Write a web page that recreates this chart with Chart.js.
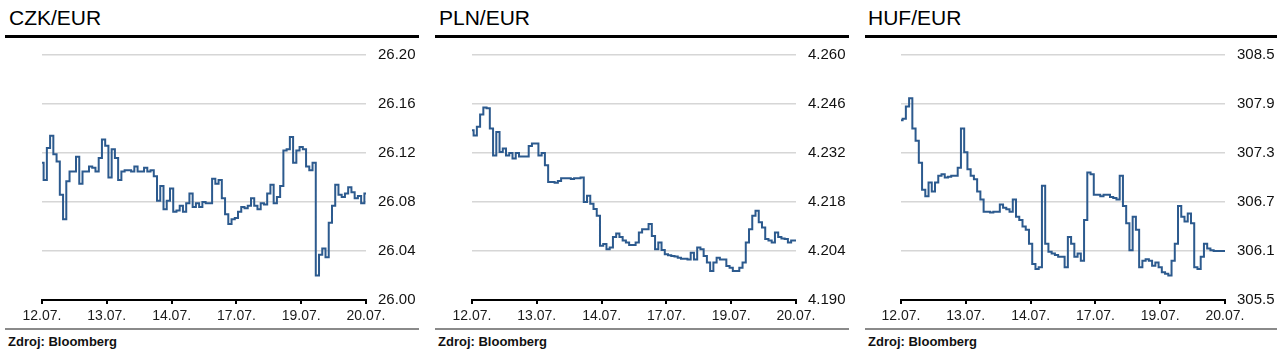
<!DOCTYPE html>
<html>
<head>
<meta charset="utf-8">
<script src="https://cdn.jsdelivr.net/npm/chart.js@4.4.1/dist/chart.umd.min.js"></script>
<style>
  html, body { margin: 0; padding: 0; background: #fff; }
  body { width: 1288px; height: 355px; position: relative; overflow: hidden; font-family: "Liberation Sans", Arial, sans-serif; }
  .title { position: absolute; top: 7px; font-size: 21px; line-height: 21px; color: #000; white-space: nowrap; }
  .rule { position: absolute; top: 35px; height: 3px; background: #000; }
  .rule2 { position: absolute; top: 328px; height: 2px; background: #8a8a8a; }
  .src { position: absolute; top: 335px; font-size: 13px; line-height: 13px; font-weight: bold; color: #111; white-space: nowrap; }
  canvas { position: absolute; top: 0; }
</style>
</head>
<body>
<div class="title" style="left:9px">CZK/EUR</div>
<div class="title" style="left:439px">PLN/EUR</div>
<div class="title" style="left:868px">HUF/EUR</div>
<div class="rule" style="left:5px;width:414px"></div>
<div class="rule" style="left:435px;width:414px"></div>
<div class="rule" style="left:865px;width:412px"></div>
<div class="rule2" style="left:5px;width:414px"></div>
<div class="rule2" style="left:435px;width:414px"></div>
<div class="rule2" style="left:865px;width:412px"></div>
<div class="src" style="left:8px">Zdroj: Bloomberg</div>
<div class="src" style="left:438px">Zdroj: Bloomberg</div>
<div class="src" style="left:868px">Zdroj: Bloomberg</div>
<canvas id="c1" width="414" height="355" style="left:5px"></canvas>
<canvas id="c2" width="414" height="355" style="left:435px"></canvas>
<canvas id="c3" width="414" height="355" style="left:864px"></canvas>
<script>
// Dates (x-axis tick labels); samples are equally spaced, 20 per labelled interval
const xLabels = ['12.07.', '13.07.', '14.07.', '17.07.', '19.07.', '20.07.'];
const SAMPLES_PER_STEP = 20;

const czkTicks = [26.00, 26.04, 26.08, 26.12, 26.16, 26.20];
const plnTicks = [4.190, 4.204, 4.218, 4.232, 4.246, 4.260];
const hufTicks = [305.5, 306.1, 306.7, 307.3, 307.9, 308.5];

const czkValues = [
  26.112, 26.098, 26.124, 26.134, 26.119, 26.113, 26.086, 26.066, 26.097, 26.105,
  26.105, 26.117, 26.095, 26.105, 26.105, 26.109, 26.108, 26.105, 26.116, 26.131,
  26.126, 26.100, 26.123, 26.116, 26.098, 26.105, 26.106, 26.106, 26.105, 26.109,
  26.105, 26.105, 26.108, 26.105, 26.106, 26.101, 26.081, 26.093, 26.074, 26.081,
  26.091, 26.072, 26.073, 26.077, 26.072, 26.079, 26.087, 26.076, 26.079, 26.076,
  26.080, 26.079, 26.079, 26.099, 26.095, 26.098, 26.083, 26.070, 26.062, 26.066,
  26.067, 26.072, 26.076, 26.075, 26.077, 26.083, 26.077, 26.074, 26.079, 26.078,
  26.087, 26.094, 26.079, 26.084, 26.093, 26.122, 26.123, 26.133, 26.112, 26.122,
  26.125, 26.123, 26.109, 26.106, 26.112, 26.020, 26.037, 26.042, 26.035, 26.063,
  26.077, 26.094, 26.086, 26.084, 26.087, 26.092, 26.088, 26.083, 26.085, 26.079,
  26.087
];

const plnValues = [
  4.2385, 4.2370, 4.2395, 4.2430, 4.2450, 4.2448, 4.2390, 4.2313, 4.2380, 4.2323,
  4.2333, 4.2313, 4.2320, 4.2304, 4.2320, 4.2310, 4.2310, 4.2310, 4.2340, 4.2347,
  4.2347, 4.2313, 4.2320, 4.2285, 4.2237, 4.2237, 4.2235, 4.2240, 4.2248, 4.2248,
  4.2248, 4.2246, 4.2248, 4.2248, 4.2250, 4.2180, 4.2198, 4.2175, 4.2160, 4.2141,
  4.2055, 4.2060, 4.2045, 4.2050, 4.2080, 4.2090, 4.2080, 4.2070, 4.2064, 4.2057,
  4.2057, 4.2064, 4.2093, 4.2102, 4.2102, 4.2117, 4.2083, 4.2045, 4.2064, 4.2043,
  4.2031, 4.2028, 4.2026, 4.2024, 4.2021, 4.2018, 4.2018, 4.2016, 4.2035, 4.2016,
  4.2050, 4.2045, 4.2026, 4.2007, 4.1983, 4.2007, 4.2021, 4.2016, 4.2016, 4.1997,
  4.1992, 4.1983, 4.1983, 4.1992, 4.2007, 4.2064, 4.2102, 4.2141, 4.2155, 4.2122,
  4.2107, 4.2074, 4.2070, 4.2064, 4.2093, 4.2080, 4.2076, 4.2074, 4.2064, 4.2070,
  4.2070
];

const hufValues = [
  307.70, 307.72, 307.87, 307.97, 307.60, 307.45, 307.18, 306.85, 306.77, 306.94,
  306.83, 306.94, 307.02, 307.04, 307.00, 307.01, 307.02, 307.02, 307.12, 307.60,
  307.31, 307.10, 307.02, 306.98, 306.83, 306.73, 306.58, 306.58, 306.57, 306.58,
  306.58, 306.67, 306.63, 306.61, 306.58, 306.73, 306.52, 306.48, 306.40, 306.36,
  306.19, 305.94, 305.88, 305.90, 306.90, 306.19, 306.09, 306.07, 306.05, 306.03,
  306.03, 305.90, 306.27, 306.19, 306.03, 306.07, 305.98, 306.48, 307.06, 307.04,
  306.79, 306.79, 306.77, 306.79, 306.79, 306.76, 306.75, 306.73, 307.02, 306.65,
  306.44, 306.11, 306.52, 306.36, 305.90, 305.98, 306.00, 305.98, 305.92, 305.96,
  305.90, 305.84, 305.82, 305.80, 305.98, 306.19, 306.65, 306.52, 306.46, 306.56,
  306.44, 305.90, 305.88, 306.03, 306.19, 306.13, 306.11, 306.10, 306.10, 306.10,
  306.10
];

const LINE_COLOR = '#2c5a8e';
const FONT = '"Liberation Sans", Arial, sans-serif';

function makeChart(id, values, yTicks, decimals) {
  const ctx = document.getElementById(id).getContext('2d');
  return new Chart(ctx, {
    type: 'line',
    data: {
      datasets: [{
        data: values.map((v, i) => ({ x: i / SAMPLES_PER_STEP, y: v })),
        borderColor: LINE_COLOR,
        borderWidth: 2,
        pointRadius: 0,
        tension: 0,
        stepped: 'middle',
        fill: false
      }]
    },
    options: {
      responsive: false,
      animation: false,
      devicePixelRatio: 1,
      layout: { padding: { left: 37, top: 55, right: 0, bottom: 25 } },
      plugins: { legend: { display: false }, tooltip: { enabled: false }, title: { display: false } },
      scales: {
        x: {
          type: 'linear',
          min: 0,
          max: xLabels.length - 1,
          afterBuildTicks: s => { s.ticks = xLabels.map((_, i) => ({ value: i })); },
          afterFit: s => { s.height = 30; },
          ticks: {
            callback: (v, i) => xLabels[i],
            font: { family: FONT, size: 14 },
            color: '#1a1a1a',
            padding: 4,
            maxRotation: 0,
            autoSkip: false
          },
          grid: { drawOnChartArea: false, drawTicks: true, tickLength: 4, color: '#000', lineWidth: 2 },
          border: { display: true, color: '#000', width: 2 }
        },
        y: {
          position: 'right',
          min: yTicks[0],
          max: yTicks[yTicks.length - 1],
          afterBuildTicks: s => { s.ticks = yTicks.map(v => ({ value: v })); },
          afterFit: s => { s.width = 53; },
          ticks: {
            callback: v => Number(v).toFixed(decimals),
            font: { family: FONT, size: 15 },
            color: '#111',
            padding: 12
          },
          grid: {
            drawTicks: false,
            color: c => (c.tick && c.tick.value === yTicks[0]) ? 'rgba(0,0,0,0)' : '#d6d6d6',
            lineWidth: 1.5
          },
          border: { display: false }
        }
      }
    }
  });
}

makeChart('c1', czkValues, czkTicks, 2);
makeChart('c2', plnValues, plnTicks, 3);
makeChart('c3', hufValues, hufTicks, 1);
</script>
</body>
</html>
